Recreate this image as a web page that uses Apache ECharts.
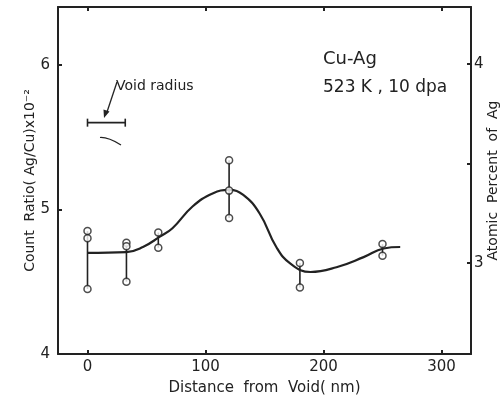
<!DOCTYPE html>
<html>
<head>
<meta charset="utf-8">
<script src="https://cdn.jsdelivr.net/npm/echarts@6/dist/echarts.min.js"></script>
<style>
  html, body { margin: 0; background: #fff; }
  #chart { width: 503px; height: 398px; }
</style>
</head>
<body>
<div id="chart"></div>
<script>
// smooth fitted curve
const curveX = [0, 33, 47, 61, 72, 89, 106, 120, 132, 146, 160, 172, 189, 211, 234, 251, 265];
const curveY = [4.70, 4.705, 4.74, 4.81, 4.87, 5.02, 5.11, 5.135, 5.10, 4.97, 4.74, 4.625, 4.567, 4.60, 4.67, 4.73, 4.74];

// measured points (open circles)
const pointX = [0, 0, 0, 33, 33, 33, 60, 60, 120, 120, 120, 180, 180, 250, 250];
const pointY = [4.85, 4.80, 4.45, 4.77, 4.745, 4.50, 4.84, 4.735, 5.34, 5.13, 4.94, 4.63, 4.46, 4.76, 4.68];

// vertical spread lines
const spreadX = [0, 33, 60, 120, 180, 250];
const spreadLow = [4.45, 4.50, 4.735, 4.94, 4.46, 4.68];
const spreadHigh = [4.85, 4.77, 4.84, 5.34, 4.63, 4.76];

// void radius marker
const voidFrom = 0;
const voidTo = 32;
const voidLevel = 5.6;

const xTicks = [0, 100, 200, 300];
const leftTicks = [4, 5, 6];
const rightTicks = [3, 3.5, 4];
const rightLabels = [3, 4];

const ink = '#222';
const font = 'DejaVu Sans';

const chart = echarts.init(document.getElementById('chart'));

const axisBase = {
    axisLine: { show: true, onZero: false, lineStyle: { color: ink, width: 2 } },
    axisTick: { show: true, inside: true, length: 4, lineStyle: { color: ink, width: 2 } },
    splitLine: { show: false },
    nameMoveOverlap: false
};

const option = {
    backgroundColor: '#fff',
    animation: false,
    grid: { left: 58, right: 32, top: 7, bottom: 44, outerBoundsMode: 'none' },
    xAxis: [
        {
            ...axisBase,
            type: 'value', position: 'bottom', min: -25, max: 325,
            axisTick: { ...axisBase.axisTick, customValues: xTicks },
            axisLabel: { customValues: xTicks, color: ink, fontFamily: font, fontSize: 15, margin: 6 },
            name: 'Distance  from  Void( nm)',
            nameLocation: 'middle', nameGap: 27,
            nameTextStyle: { color: ink, fontFamily: font, fontSize: 15 }
        },
        {
            ...axisBase,
            type: 'value', position: 'top', min: -25, max: 325,
            axisTick: { ...axisBase.axisTick, customValues: xTicks },
            axisLabel: { show: false }
        }
    ],
    yAxis: [
        {
            ...axisBase,
            type: 'value', position: 'left', min: 4, max: 6.4,
            axisTick: { ...axisBase.axisTick, customValues: leftTicks },
            axisLabel: { customValues: leftTicks, color: ink, fontFamily: font, fontSize: 15, margin: 8 },
            name: 'Count  Ratio( Ag/Cu)x10⁻²',
            nameLocation: 'middle', nameGap: 21, nameRotate: 90,
            nameTextStyle: { color: ink, fontFamily: font, fontSize: 14 }
        },
        {
            ...axisBase,
            type: 'value', position: 'right', min: 2.543, max: 4.286,
            axisTick: { ...axisBase.axisTick, customValues: rightTicks },
            axisLabel: { customValues: rightLabels, color: ink, fontFamily: font, fontSize: 15, margin: 3 },
            name: 'Atomic  Percent  of  Ag',
            nameLocation: 'middle', nameGap: 15, nameRotate: 90,
            nameTextStyle: { color: ink, fontFamily: font, fontSize: 14 }
        }
    ],
    series: [
        {
            type: 'custom',
            z: 2,
            data: spreadX.map((x, i) => [x, spreadLow[i], spreadHigh[i]]),
            renderItem: (params, api) => {
                const a = api.coord([api.value(0), api.value(1)]);
                const b = api.coord([api.value(0), api.value(2)]);
                return {
                    type: 'line',
                    shape: { x1: a[0], y1: a[1], x2: b[0], y2: b[1] },
                    style: { stroke: ink, lineWidth: 1.6 }
                };
            }
        },
        {
            type: 'line',
            z: 3,
            smooth: 0.45,
            showSymbol: false,
            data: curveX.map((x, i) => [x, curveY[i]]),
            lineStyle: { color: ink, width: 2.2 }
        },
        {
            type: 'scatter',
            z: 4,
            symbol: 'circle',
            symbolSize: 7,
            data: pointX.map((x, i) => [x, pointY[i]]),
            itemStyle: { color: '#fff', borderColor: ink, borderWidth: 1.5 }
        },
        {
            type: 'custom',
            z: 2,
            data: [[voidFrom, voidTo, voidLevel]],
            renderItem: (params, api) => {
                const a = api.coord([api.value(0), api.value(2)]);
                const b = api.coord([api.value(1), api.value(2)]);
                const s = { stroke: ink, lineWidth: 1.6 };
                return {
                    type: 'group',
                    children: [
                        { type: 'line', shape: { x1: a[0], y1: a[1], x2: b[0], y2: b[1] }, style: s },
                        { type: 'line', shape: { x1: a[0], y1: a[1] - 4, x2: a[0], y2: a[1] + 4 }, style: s },
                        { type: 'line', shape: { x1: b[0], y1: b[1] - 4, x2: b[0], y2: b[1] + 4 }, style: s }
                    ]
                };
            }
        }
    ],
    graphic: [
        { type: 'text', left: 323, top: 50, style: { text: 'Cu-Ag', fill: ink, font: '18px ' + font } },
        { type: 'text', left: 323, top: 79, style: { text: '523 K , 10 dpa', fill: ink, font: '17px ' + font } },
        { type: 'text', left: 116, top: 79, style: { text: 'Void radius', fill: ink, font: '14px ' + font } },
        // arrow to the void radius bar
        { type: 'line', shape: { x1: 117, y1: 82, x2: 107, y2: 112 }, style: { stroke: ink, lineWidth: 1.3 } },
        { type: 'polygon', shape: { points: [[104, 118], [103.5, 109.5], [109.5, 111.5]] }, style: { fill: ink } },
        // stray pen stroke under the bar
        { type: 'bezierCurve', shape: { x1: 100, y1: 137.5, cpx1: 108, cpy1: 137, x2: 121, y2: 145 }, style: { stroke: ink, lineWidth: 1.2, fill: null } }
    ]
};

chart.setOption(option);
</script>
</body>
</html>
